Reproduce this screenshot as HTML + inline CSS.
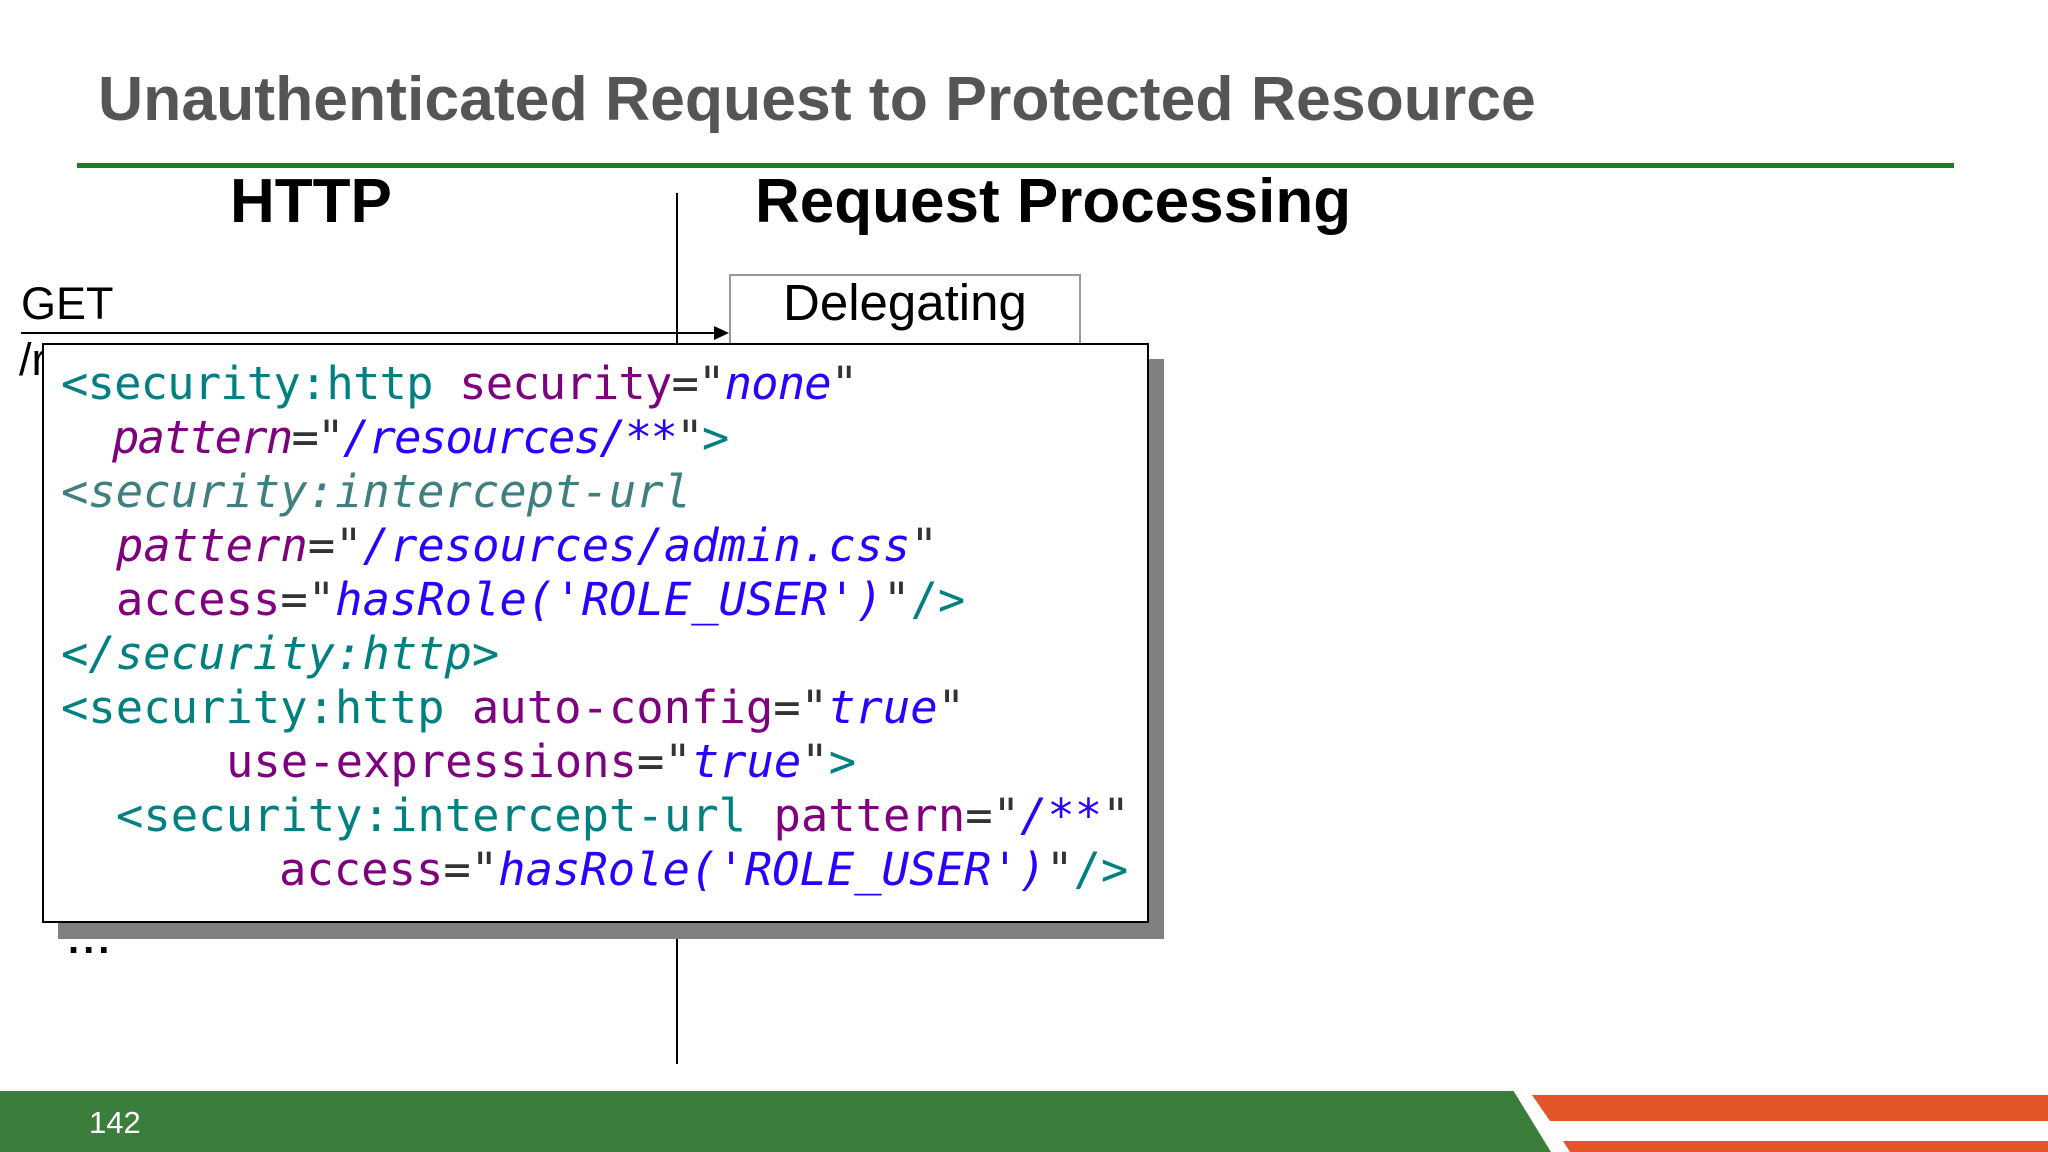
<!DOCTYPE html>
<html><head><meta charset="utf-8"><style>
body{margin:0;width:2048px;height:1152px;position:relative;background:#fff;overflow:hidden;font-family:"Liberation Sans",sans-serif}
.a{position:absolute;white-space:pre}
.code{font-family:"DejaVu Sans Mono","Liberation Mono",monospace;font-size:45.5px;line-height:1}
.t{color:#008080}.t2{color:#3f7f7f}.at{color:#7f007f}.e{color:#333}.v{color:#2a00ff}.i{font-style:italic}
</style></head><body>
<div class="a" style="left:98px;top:63px;font-size:62.5px;font-weight:bold;color:#555">Unauthenticated Request to Protected Resource</div>
<div class="a" style="left:77px;top:163px;width:1877px;height:5px;background:#1e7d1e"></div>
<div class="a" style="left:230px;top:166px;font-size:62px;font-weight:bold;color:#000">HTTP</div>
<div class="a" style="left:755px;top:166px;font-size:62px;font-weight:bold;color:#000">Request Processing</div>
<div class="a" style="left:676px;top:193px;width:2px;height:871px;background:#000"></div>
<div class="a" style="left:21px;top:278px;font-size:45px;color:#000">GET</div>
<div class="a" style="left:19px;top:334px;font-size:45px;color:#000">/r</div>
<div class="a" style="left:21px;top:332px;width:700px;height:2px;background:#000"></div>
<div class="a" style="left:714px;top:326px;width:0;height:0;border-left:15px solid #000;border-top:7px solid transparent;border-bottom:7px solid transparent"></div>
<div class="a" style="left:729px;top:274px;width:348px;height:90px;border:2px solid #999;background:#fff"></div>
<div class="a" style="left:783px;top:273px;font-size:51px;color:#000">Delegating</div>
<div class="a" style="left:68px;top:918px;font-size:40px;font-weight:bold;color:#000;letter-spacing:4px">...</div>
<div class="a" style="left:58px;top:359px;width:1106px;height:580px;background:#808080"></div>
<div class="a" style="left:42px;top:343px;width:1103px;height:576px;border:2px solid #000;background:#fff"></div>
<div class="a code" style="left:61px;top:361px;letter-spacing:-0.85px"><span class="t">&lt;security:http </span><span class="at">security</span><span class="e">="</span><span class="v i">none</span><span class="e">"</span></div>
<div class="a code" style="left:112px;top:415px;letter-spacing:-1.75px"><span class="at i">pattern</span><span class="e">="</span><span class="v i">/resources/**</span><span class="e">"</span><span class="t">&gt;</span></div>
<div class="a code" style="left:61px;top:469px"><span class="t2">&lt;</span><span class="t2 i">security:intercept-url</span></div>
<div class="a code" style="left:116px;top:523px"><span class="at i">pattern</span><span class="e">="</span><span class="v i">/resources/admin.css</span><span class="e">"</span></div>
<div class="a code" style="left:116px;top:577px"><span class="at">access</span><span class="e">="</span><span class="v i">hasRole('ROLE_USER')</span><span class="e">"</span><span class="t">/&gt;</span></div>
<div class="a code" style="left:61px;top:631px"><span class="t i">&lt;/security:http&gt;</span></div>
<div class="a code" style="left:61px;top:685px"><span class="t">&lt;security:http </span><span class="at">auto-config</span><span class="e">="</span><span class="v i">true</span><span class="e">"</span></div>
<div class="a code" style="left:226px;top:739px"><span class="at">use-expressions</span><span class="e">="</span><span class="v i">true</span><span class="e">"</span><span class="t">&gt;</span></div>
<div class="a code" style="left:116px;top:793px"><span class="t">&lt;security:intercept-url </span><span class="at">pattern</span><span class="e">="</span><span class="v i">/**</span><span class="e">"</span></div>
<div class="a code" style="left:279px;top:847px"><span class="at">access</span><span class="e">="</span><span class="v i">hasRole('ROLE_USER')</span><span class="e">"</span><span class="t">/&gt;</span></div>
<svg class="a" style="left:0;top:1090px" width="2048" height="62">
<rect x="0" y="1" width="2048" height="61" fill="#3b7d3b"/>
<polygon points="1513,0 2048,0 2048,62 1551,62" fill="#fff"/>
<polygon points="1532,5 2048,5 2048,31 1550,31" fill="#e5552a"/>
<polygon points="1563,51 2048,51 2048,62 1570,62" fill="#e5552a"/>
</svg>
<div class="a" style="left:89px;top:1105px;font-size:31px;color:#fff">142</div>
</body></html>
